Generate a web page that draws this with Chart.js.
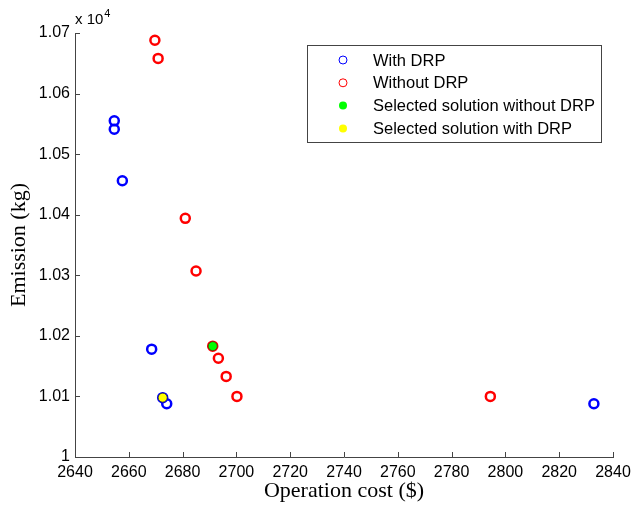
<!DOCTYPE html>
<html>
<head>
<meta charset="utf-8">
<script src="https://cdn.jsdelivr.net/npm/chart.js@4/dist/chart.umd.min.js"></script>
<style>
  body { margin: 0; background: #fff; }
  canvas { display: block; }
</style>
</head>
<body>
<canvas id="pareto" width="632" height="509"></canvas>
<script>
// data (emission in kg, shown as x 10^4 on the axis)
const withDrpCost = [2654.6, 2654.6, 2657.6, 2668.5, 2672.6, 2674.1, 2832.9];
const withDrpEmission = [10555, 10541, 10456, 10178, 10098, 10088, 10088];

const withoutDrpCost = [2669.7, 2670.9, 2681.0, 2685.0, 2691.2, 2693.3, 2696.2, 2700.2, 2794.4];
const withoutDrpEmission = [10688, 10658, 10394, 10307, 10183, 10163, 10133, 10100, 10100];

const selectedWithoutCost = [2691.2];
const selectedWithoutEmission = [10183];
const selectedWithCost = [2672.6];
const selectedWithEmission = [10098];

const seriesNames = ["With DRP", "Without DRP", "Selected solution without DRP", "Selected solution with DRP"];

const xTicks = [2640, 2840, 20];
const yTicks = [10000, 10700, 100];

function toPoints(xs, ys) {
	return xs.map((x, i) => ({ x: x, y: ys[i] }));
}

const tickFont = { family: "'Liberation Sans', Arial, sans-serif", size: 16 };
const titleFont = { family: "'Liberation Serif', 'Times New Roman', serif", size: 22 };

// MATLAB style inward tick marks + legend box + exponent label
const matlabDecor = {
	id: "matlabDecor",
	afterDraw(chart) {
		const c = chart.ctx;
		const xs = chart.scales.x, ys = chart.scales.y;
		const area = chart.chartArea;
		c.save();
		c.strokeStyle = "#444";
		c.lineWidth = 1;
		c.beginPath();
		xs.ticks.forEach(t => {
			const px = Math.round(xs.getPixelForValue(t.value)) + 0.5;
			c.moveTo(px, area.bottom);
			c.lineTo(px, area.bottom - 5);
		});
		ys.ticks.forEach(t => {
			const py = Math.round(ys.getPixelForValue(t.value)) + 0.5;
			c.moveTo(area.left, py);
			c.lineTo(area.left + 5, py);
		});
		c.stroke();

		// exponent
		c.fillStyle = "#000";
		c.textBaseline = "alphabetic";
		c.textAlign = "left";
		c.font = "15px 'Liberation Sans', Arial, sans-serif";
		c.fillText("x 10", area.left, 24);
		const w = c.measureText("x 10").width;
		c.font = "11px 'Liberation Sans', Arial, sans-serif";
		c.fillText("4", area.left + w + 1, 17);

		// legend
		const box = { x: 307.5, y: 45.5, w: 294, h: 97 };
		c.fillStyle = "#fff";
		c.fillRect(box.x, box.y, box.w, box.h);
		c.strokeStyle = "#444";
		c.strokeRect(box.x, box.y, box.w, box.h);
		c.font = "16.5px 'Liberation Sans', Arial, sans-serif";
		c.textBaseline = "middle";
		chart.data.datasets.forEach((ds, i) => {
			const y = 60 + i * 22.8;
			c.beginPath();
			c.arc(343, y, 4, 0, Math.PI * 2);
			if (ds.legendFilled) {
				c.fillStyle = ds.pointBackgroundColor;
				c.fill();
			} else {
				c.strokeStyle = ds.pointBorderColor;
				c.lineWidth = 1;
				c.stroke();
			}
			c.fillStyle = "#000";
			c.fillText(ds.label, 373, y + 1);
		});
		c.restore();
	}
};

new Chart(document.getElementById("pareto"), {
	type: "scatter",
	data: {
		datasets: [
			{
				label: seriesNames[0],
				data: toPoints(withDrpCost, withDrpEmission),
				pointRadius: 4.5,
				pointBorderWidth: 2.5,
				pointBorderColor: "#0000ff",
				pointBackgroundColor: "rgba(0,0,0,0)",
				order: 2
			},
			{
				label: seriesNames[1],
				data: toPoints(withoutDrpCost, withoutDrpEmission),
				pointRadius: 4.5,
				pointBorderWidth: 2.5,
				pointBorderColor: "#ff0000",
				pointBackgroundColor: "rgba(0,0,0,0)",
				order: 2
			},
			{
				label: seriesNames[2],
				data: toPoints(selectedWithoutCost, selectedWithoutEmission),
				pointRadius: 4.5,
				pointBorderWidth: 0.8,
				pointBorderColor: "#5a2a10",
				pointBackgroundColor: "#00ff00",
				legendFilled: true,
				order: 1
			},
			{
				label: seriesNames[3],
				data: toPoints(selectedWithCost, selectedWithEmission),
				pointRadius: 4.5,
				pointBorderWidth: 0.8,
				pointBorderColor: "#222244",
				pointBackgroundColor: "#ffff00",
				legendFilled: true,
				order: 1
			}
		]
	},
	options: {
		responsive: false,
		animation: false,
		layout: { padding: { top: 33, right: 19, left: 0, bottom: 0 } },
		plugins: {
			legend: { display: false },
			tooltip: { enabled: false }
		},
		scales: {
			x: {
				type: "linear",
				min: xTicks[0],
				max: xTicks[1],
				ticks: {
					stepSize: xTicks[2],
					autoSkip: false,
					maxRotation: 0,
					color: "#000",
					font: tickFont,
					padding: 6,
					callback: v => String(v)
				},
				grid: { drawOnChartArea: false, drawTicks: false },
				border: { color: "#444", width: 1 },
				title: {
					display: true,
					text: "Operation cost ($)",
					color: "#000",
					font: titleFont,
					padding: { top: 0, bottom: 5 }
				},
				afterFit(scale) {
					scale.height = 52;
					scale.paddingRight = 0;
					scale.paddingLeft = 0;
				}
			},
			y: {
				type: "linear",
				min: yTicks[0],
				max: yTicks[1],
				ticks: {
					stepSize: yTicks[2],
					color: "#000",
					font: tickFont,
					padding: 5,
					callback: v => String(parseFloat((v / 1e4).toFixed(2)))
				},
				grid: { drawOnChartArea: false, drawTicks: false },
				border: { color: "#444", width: 1 },
				title: {
					display: true,
					text: "Emission (kg)",
					color: "#000",
					font: titleFont,
					padding: { top: 6, bottom: 0 }
				},
				afterFit(scale) { scale.width = 75; }
			}
		}
	},
	plugins: [matlabDecor]
});
</script>
</body>
</html>
